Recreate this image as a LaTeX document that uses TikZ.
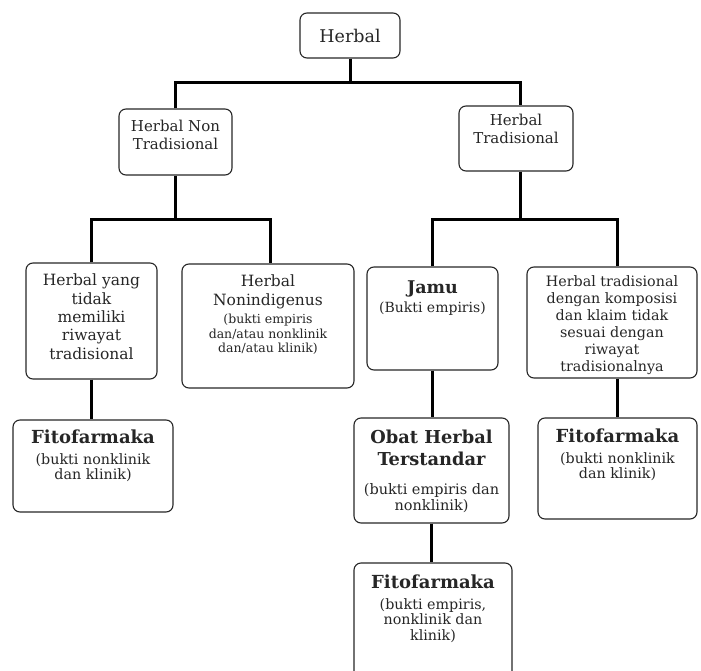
\documentclass[tikz,border=0pt]{standalone}
\usepackage{fontspec}
\setmainfont{DejaVu Serif}
\newcommand{\fs}[2]{\fontsize{#1}{#2}\selectfont}
\begin{document}
\begin{tikzpicture}[x=1pt,y=-1pt,
  box/.style={draw=black!85, line width=1.1pt, rounded corners=7pt, inner sep=0pt},
  conn/.style={line width=3pt, black},
  txt/.style={anchor=north, align=center, inner sep=0pt, text=black!85}]
\useasboundingbox (0,0) rectangle (701,671);
\clip (0,0) rectangle (701,671);
% boxes
\node[box, minimum width=100pt, minimum height=45pt] (herbal) at (350,35.5) {};
\node[box, minimum width=113pt, minimum height=66pt] (hnt) at (175.5,142) {};
\node[box, minimum width=114pt, minimum height=65pt] (ht) at (516,138.5) {};
\node[box, minimum width=131pt, minimum height=116pt] (hyt) at (91.5,321) {};
\node[box, minimum width=172pt, minimum height=124pt] (hni) at (268,326) {};
\node[box, minimum width=131pt, minimum height=103pt] (jamu) at (432.5,318.5) {};
\node[box, minimum width=170pt, minimum height=111pt] (htd) at (612,322.5) {};
\node[box, minimum width=160pt, minimum height=92pt] (fitol) at (93,466) {};
\node[box, minimum width=155pt, minimum height=105pt] (oht) at (431.5,470.5) {};
\node[box, minimum width=159pt, minimum height=101pt] (fitor) at (617.5,468.5) {};
\node[box, minimum width=158pt, minimum height=122pt] (fitob) at (433,624) {};
% texts
\node[txt, anchor=center, font=\fs{17.5}{20}] (herbal-t) at (herbal) {Herbal};
\node[txt, font=\fs{15}{18}] (hnt-t) at (175.5,120) {Herbal Non\\Tradisional};
\node[txt, font=\fs{15}{18}] (ht-t) at (516,114) {Herbal\\Tradisional};
\node[txt, font=\fs{15.5}{18.3}] (hyt-t) at (91.5,274) {Herbal yang\\tidak\\memiliki\\riwayat\\tradisional};
\node[txt, font=\fs{15.5}{18.3}] (hni-t) at (268,275) {Herbal\\Nonindigenus};
\node[txt, font=\fs{12.5}{14.5}] (hni-s) at (268,314) {(bukti empiris\\dan/atau nonklinik\\dan/atau klinik)};
\node[txt, font=\fs{17.5}{20}\bfseries] (jamu-t) at (432.5,281) {Jamu};
\node[txt, font=\fs{14}{16}] (jamu-s) at (432.5,302) {(Bukti empiris)};
\node[txt, font=\fs{14.3}{17}] (htd-t) at (612,275) {Herbal tradisional\\dengan komposisi\\dan klaim tidak\\sesuai dengan\\riwayat\\tradisionalnya};
\node[txt, font=\fs{18}{21}\bfseries] (fitol-t) at (93,430) {Fitofarmaka};
\node[txt, font=\fs{14.3}{15.8}] (fitol-s) at (93,453) {(bukti nonklinik\\dan klinik)};
\node[txt, font=\fs{17.8}{22}\bfseries] (oht-t) at (431.5,430) {Obat Herbal\\Terstandar};
\node[txt, font=\fs{14.5}{16.5}] (oht-s) at (431.5,483) {(bukti empiris dan\\nonklinik)};
\node[txt, font=\fs{18}{21}\bfseries] (fitor-t) at (617.5,429) {Fitofarmaka};
\node[txt, font=\fs{14.3}{15.8}] (fitor-s) at (617.5,452) {(bukti nonklinik\\dan klinik)};
\node[txt, font=\fs{18}{21}\bfseries] (fitob-t) at (433,575) {Fitofarmaka};
\node[txt, font=\fs{14.3}{15.8}] (fitob-s) at (433,598) {(bukti empiris,\\nonklinik dan\\klinik)};
% connectors
\coordinate (j1) at (350,83);
\coordinate (j2) at (175.5,219);
\coordinate (j3) at (520,219);
\draw[conn] (herbal.south) -- (j1);
\draw[conn] (hnt.north) |- (j1) -| ([xshift=4pt]ht.north);
\draw[conn] (hnt.south) -- (j2);
\draw[conn] (hyt.north) |- (j2) -| ([xshift=2pt]hni.north);
\draw[conn] ([xshift=4pt]ht.south) -- (j3);
\draw[conn] (jamu.north) |- (j3) -| ([xshift=5pt]htd.north);
\draw[conn] (hyt.south) -- (hyt.south |- fitol.north);
\draw[conn] (jamu.south) -- (jamu.south |- oht.north);
\draw[conn] ([xshift=5pt]htd.south) -- ([xshift=5pt]htd.south |- fitor.north);
\draw[conn] (oht.south) -- (oht.south |- fitob.north);
\end{tikzpicture}
\end{document}
